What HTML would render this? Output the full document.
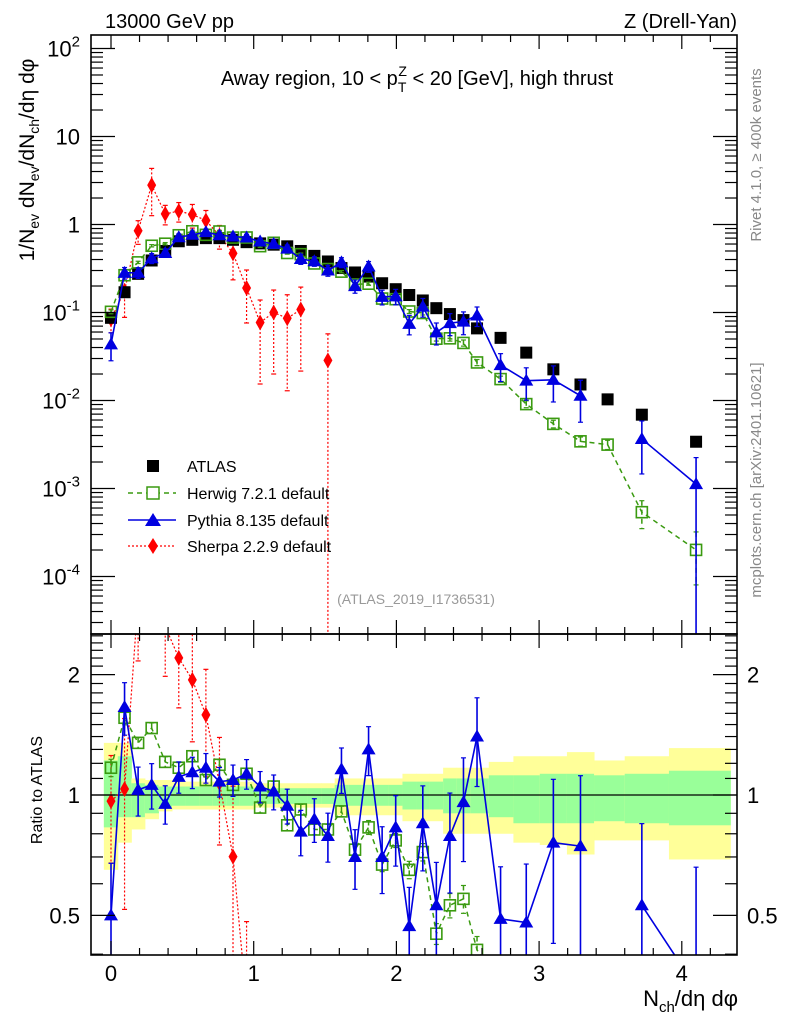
<!DOCTYPE html>
<html><head><meta charset="utf-8"><style>
html,body{margin:0;padding:0;background:#fff;width:786px;height:1024px;overflow:hidden;}
svg{display:block;font-family:"Liberation Sans",sans-serif;}
</style></head><body>
<svg id="chart" xmlns="http://www.w3.org/2000/svg" width="786" height="1024" viewBox="0 0 786 1024">
<g id="bands"></g>
<g id="marks"></g>
<g id="axes"></g>
<text x="105" y="28" font-size="20">13000 GeV pp</text>
<text x="737" y="28" font-size="20" text-anchor="end">Z (Drell-Yan)</text>
<text x="417" y="85" font-size="20" text-anchor="middle">Away region, 10 &lt; p<tspan font-size="14" dy="7">T</tspan><tspan font-size="14" dx="-8" dy="-16">Z</tspan><tspan dy="9"> &lt; 20 [GeV], high thrust</tspan></text>
<text transform="translate(34,160) rotate(-90)" font-size="21" text-anchor="middle">1/N<tspan font-size="14" dy="5">ev</tspan><tspan dy="-5"> dN</tspan><tspan font-size="14" dy="5">ev</tspan><tspan dy="-5">/dN</tspan><tspan font-size="14" dy="5">ch</tspan><tspan dy="-5">/dη dφ</tspan></text>
<text transform="translate(42,790) rotate(-90)" font-size="16" text-anchor="middle">Ratio to ATLAS</text>
<text x="738" y="1006" font-size="22" text-anchor="end">N<tspan font-size="15" dy="6">ch</tspan><tspan dy="-6">/dη dφ</tspan></text>
<text transform="translate(761,155) rotate(-90)" font-size="15" fill="#888" text-anchor="middle">Rivet 4.1.0, ≥ 400k events</text>
<text transform="translate(761,480) rotate(-90)" font-size="15" fill="#888" text-anchor="middle">mcplots.cern.ch [arXiv:2401.10621]</text>
<text x="416" y="604" font-size="14" fill="#999" text-anchor="middle">(ATLAS_2019_I1736531)</text>
<g id="legend">
<g><rect x="147" y="460" width="12" height="12" fill="#000"/><text x="187" y="472" font-size="16">ATLAS</text></g>
<g><line x1="128" y1="493" x2="176" y2="493" stroke="#3a9a10" stroke-width="1.5" stroke-dasharray="5,4"/><rect x="147" y="487" width="12" height="12" fill="#fff" stroke="#3a9a10" stroke-width="1.5"/><text x="187" y="499" font-size="16">Herwig 7.2.1 default</text></g>
<g><line x1="128" y1="520" x2="176" y2="520" stroke="#0000e0" stroke-width="1.5"/><path d="M145,526 L153,513 L161,526 Z" fill="#0000e0"/><text x="187" y="526" font-size="16">Pythia 8.135 default</text></g>
<g><line x1="128" y1="546" x2="176" y2="546" stroke="#f00" stroke-width="1.2" stroke-dasharray="2,2"/><path d="M153,538 L158,546 L153,554 L148,546 Z" fill="#f00"/><text x="187" y="552" font-size="16">Sherpa 2.2.9 default</text></g>
</g>
</svg>
<script>
const xVals = [0,0.095,0.19,0.285,0.38,0.475,0.57,0.665,0.76,0.855,0.95,1.045,1.14,1.235,1.33,1.425,1.52,1.615,1.71,1.805,1.9,1.995,2.09,2.185,2.28,2.375,2.47,2.565,2.73,2.91,3.10,3.29,3.48,3.72,4.10];
const atlasVals = [0.087,0.17,0.275,0.39,0.50,0.645,0.67,0.70,0.70,0.67,0.63,0.61,0.59,0.565,0.50,0.44,0.38,0.32,0.285,0.256,0.215,0.184,0.158,0.137,0.112,0.096,0.082,0.066,0.0515,0.035,0.0226,0.0152,0.0103,0.0069,0.0034];
const pythiaRatio = [0.50,1.66,1.03,1.06,0.95,1.11,1.14,1.17,1.08,1.09,1.13,1.05,1.02,0.94,0.81,0.87,0.79,1.16,0.70,1.30,0.70,0.83,0.47,0.85,0.53,0.79,0.96,1.40,0.49,0.48,0.76,0.745,null,0.53,0.33];
const pythiaErr = [0.35,0.15,0.14,0.13,0.11,0.09,0.09,0.085,0.085,0.09,0.085,0.09,0.10,0.10,0.13,0.125,0.14,0.13,0.17,0.14,0.19,0.2,0.25,0.24,0.28,0.28,0.29,0.25,0.35,0.4,0.44,0.5,null,0.6,1.0];
const herwigRatio = [1.17,1.56,1.35,1.47,1.21,1.17,1.25,1.09,1.19,1.06,1.13,0.93,1.05,0.84,0.92,0.82,0.82,0.91,0.73,0.83,0.67,0.77,0.65,0.72,0.45,0.53,0.55,0.41,0.34,0.26,0.24,0.226,0.306,0.078,0.059];
const herwigErr = [0.05,0.04,0.03,0.03,0.03,0.03,0.03,0.03,0.03,0.03,0.03,0.03,0.03,0.03,0.03,0.03,0.03,0.03,0.04,0.04,0.04,0.04,0.05,0.05,0.06,0.07,0.08,0.08,0.08,0.09,0.1,0.12,0.12,0.35,0.6];
const sherpaVals = [0.084,0.176,0.85,2.8,1.32,1.42,1.30,1.11,0.75,0.47,0.19,0.077,0.10,0.086,0.108,null,0.0286];
const sherpaErr = [0.3,0.5,0.3,0.55,0.25,0.25,0.3,0.3,0.3,0.5,0.6,0.8,0.8,0.85,0.8,null,1.0];
const bandYellowHi = [1.35,1.35,1.10,1.09,1.09,1.08,1.08,1.08,1.08,1.08,1.08,1.07,1.07,1.07,1.07,1.07,1.07,1.10,1.10,1.10,1.10,1.10,1.13,1.13,1.13,1.17,1.17,1.17,1.21,1.25,1.25,1.28,1.22,1.25,1.31];
const bandYellowLo = [0.65,0.76,0.82,0.87,0.91,0.92,0.92,0.92,0.92,0.92,0.92,0.93,0.93,0.93,0.93,0.93,0.93,0.89,0.89,0.89,0.89,0.89,0.86,0.86,0.86,0.80,0.80,0.80,0.80,0.76,0.75,0.71,0.77,0.77,0.69];
const bandGreenHi = [1.22,1.25,1.07,1.06,1.05,1.05,1.05,1.05,1.05,1.05,1.05,1.04,1.04,1.04,1.04,1.04,1.04,1.06,1.06,1.06,1.06,1.06,1.08,1.08,1.08,1.10,1.10,1.10,1.12,1.12,1.13,1.13,1.12,1.13,1.15];
const bandGreenLo = [0.83,0.88,0.88,0.90,0.93,0.94,0.94,0.94,0.94,0.94,0.94,0.95,0.95,0.95,0.95,0.95,0.95,0.94,0.94,0.94,0.94,0.94,0.92,0.92,0.92,0.90,0.90,0.90,0.88,0.85,0.85,0.85,0.86,0.85,0.84];
const mainTickLabels = ["10^2","10","1","10^-1","10^-2","10^-3","10^-4"];
const ratioTickLabels = ["0.5","1","2"];
const xTickLabels = ["0","1","2","3","4"];

const NS="http://www.w3.org/2000/svg";
const L=91,R=737,T=35,MB=634,RB=955;
const X0=111,XS=142.7;
function sx(v){return X0+v*XS;}
function syMain(v){return 224.5-Math.log10(v)*88;}
function syRatio(v){return 795-Math.log10(v)*400;}
function mk(tag,attrs,parent){const e=document.createElementNS(NS,tag);for(const k in attrs)e.setAttribute(k,attrs[k]);parent.appendChild(e);return e;}
const marks=document.getElementById('marks'),axes=document.getElementById('axes'),bands=document.getElementById('bands');

const defs=mk('defs',{},document.getElementById('chart'));
const c1=mk('clipPath',{id:'cm'},defs);mk('rect',{x:L,y:T,width:R-L,height:MB-T},c1);
const c2=mk('clipPath',{id:'cr'},defs);mk('rect',{x:L,y:MB,width:R-L,height:RB-MB},c2);

const edges=[];
for(let i=0;i<=xVals.length;i++){
  if(i===0)edges.push(xVals[0]-0.05);
  else if(i===xVals.length)edges.push(4.34);
  else edges.push((xVals[i-1]+xVals[i])/2);
}
const bg=mk('g',{'clip-path':'url(#cr)'},bands);
for(let i=0;i<xVals.length;i++){
  const x1=sx(edges[i]),x2=sx(edges[i+1]);
  const y=mk('rect',{x:x1,y:syRatio(bandYellowHi[i]),width:x2-x1+0.5,height:syRatio(bandYellowLo[i])-syRatio(bandYellowHi[i]),fill:'#ffff99'},bg);
  
  
  const g=mk('rect',{x:x1,y:syRatio(bandGreenHi[i]),width:x2-x1+0.5,height:syRatio(bandGreenLo[i])-syRatio(bandGreenHi[i]),fill:'#99ff99'},bg);
  
  
}
mk('line',{x1:L,x2:R,y1:syRatio(1),y2:syRatio(1),stroke:'#000','stroke-width':1.2},bands);

function drawSeries(vals,errs,sy,top,bot,clip,style,name){
  const g=mk('g',{'clip-path':clip},marks);
  
  
  let pts=[],segs=[];
  vals.forEach((v,i)=>{ if(v==null||!(v>0)){if(pts.length)segs.push(pts);pts=[];return;} pts.push([sx(xVals[i]),sy(v)]); });
  if(pts.length)segs.push(pts);
  segs.forEach(s=>{ if(s.length>1) mk('polyline',{points:s.map(p=>p.join(',')).join(' '),fill:'none',stroke:style.c,'stroke-width':style.w,'stroke-dasharray':style.d||'none'},g);});
  vals.forEach((v,i)=>{
    if(v==null||!(v>0))return;
    const x=sx(xVals[i]),y=sy(v),e=errs?errs[i]:0;
    if(e){
      const yh=sy(v*(1+e)),yl=e>=1?bot+5:sy(v*(1-e));
      mk('line',{x1:x,x2:x,y1:yh,y2:yl,stroke:style.c,'stroke-width':style.ew||1.5,'stroke-dasharray':style.d||'none'},g);
      mk('line',{x1:x-2.5,x2:x+2.5,y1:yh,y2:yh,stroke:style.c,'stroke-width':1.2},g);
      if(e<1)mk('line',{x1:x-2.5,x2:x+2.5,y1:yl,y2:yl,stroke:style.c,'stroke-width':1.2},g);
    }
    let m;
    if(style.m==='sq') m=mk('rect',{x:x-6,y:y-6,width:12,height:12,fill:'#000'},g);
    else if(style.m==='osq') m=mk('rect',{x:x-5.5,y:y-5.5,width:11,height:11,fill:'none',stroke:style.c,'stroke-width':1.6},g);
    else if(style.m==='tri') m=mk('path',{d:`M${x-7},${y+5} L${x},${y-7} L${x+7},${y+5} Z`,fill:style.c},g);
    else m=mk('path',{d:`M${x},${y-8} L${x+4.5},${y} L${x},${y+8} L${x-4.5},${y} Z`,fill:style.c},g);
    
    
  });
}
const hw={c:'#3a9a10',w:1.5,d:'5,4',m:'osq',ew:1.5};
const py={c:'#0000e0',w:1.6,m:'tri',ew:1.6};
const sh={c:'#f00',w:1.2,d:'2,2',m:'dia',ew:1.2};
const herwigVals=herwigRatio.map((r,i)=>r==null?null:r*atlasVals[i]);
const pythiaVals=pythiaRatio.map((r,i)=>r==null?null:r*atlasVals[i]);
const sherpaRatio=sherpaVals.map((v,i)=>v==null?null:v/atlasVals[i]);
drawSeries(sherpaVals,sherpaErr,syMain,T,MB,'url(#cm)',sh,'sherpa-series');
drawSeries(atlasVals,null,syMain,T,MB,'url(#cm)',{c:'#000',w:0,m:'sq'},'atlas-series');
drawSeries(herwigVals,herwigErr,syMain,T,MB,'url(#cm)',hw,'herwig-series');
drawSeries(pythiaVals,pythiaErr,syMain,T,MB,'url(#cm)',py,'pythia-series');
drawSeries(sherpaRatio,sherpaErr,syRatio,MB,RB,'url(#cr)',sh,'sherpa-ratio');
drawSeries(herwigRatio,herwigErr,syRatio,MB,RB,'url(#cr)',hw,'herwig-ratio');
drawSeries(pythiaRatio,pythiaErr,syRatio,MB,RB,'url(#cr)',py,'pythia-ratio');

mk('rect',{x:L,y:T,width:R-L,height:MB-T,fill:'none',stroke:'#000','stroke-width':1.6},axes);
mk('rect',{x:L,y:MB,width:R-L,height:RB-MB,fill:'none',stroke:'#000','stroke-width':1.6},axes);
function ln(x1,y1,x2,y2){mk('line',{x1,y1,x2,y2,stroke:'#000','stroke-width':1.2},axes);}
for(let k=-0.2;k<=4.4;k+=0.2){
  const v=Math.round(k*10)/10; const x=sx(v); if(x<L||x>R)continue;
  const maj=Math.abs(v-Math.round(v))<1e-6; const len=maj?14:7;
  ln(x,T,x,T+len);ln(x,MB,x,MB-len);ln(x,MB,x,MB+len);ln(x,RB,x,RB-len);
}
xTickLabels.forEach((t,i)=>{const e=mk('text',{x:sx(i),y:RB+26,'font-size':22,'text-anchor':'middle'},axes);e.textContent=t;});
for(let d=-5;d<=2;d++){
  for(let m=1;m<=9;m++){
    const v=m*Math.pow(10,d),y=syMain(v); if(y<T||y>MB)continue;
    const len=m===1?24:12; ln(L,y,L+len,y);ln(R,y,R-len,y);
  }
}
mainTickLabels.forEach((t,i)=>{
  const d=2-i,y=syMain(Math.pow(10,d));
  const e=mk('text',{x:80,y:y+8,'font-size':22,'text-anchor':'end'},axes);
  
  
  if(t.indexOf('^')>=0){const p=t.split('^');e.textContent=p[0];const s=mk('tspan',{'font-size':15,dy:-10},e);s.textContent=p[1];}
  else e.textContent=t;
});
for(let v=0.4;v<=2.6;v=Math.round((v+0.1)*10)/10){
  const y=syRatio(v); if(y<MB||y>RB)continue;
  const maj=(v===0.5||v===1||v===2); const len=maj?24:12; ln(L,y,L+len,y);ln(R,y,R-len,y);
}
ratioTickLabels.forEach(t=>{
  const y=syRatio(parseFloat(t));
  const a=mk('text',{x:80,y:y+8,'font-size':22,'text-anchor':'end'},axes);a.textContent=t;
  
  
  const b=mk('text',{x:747,y:y+8,'font-size':22,'text-anchor':'start'},axes);b.textContent=t;
  
  
});
</script>
</body></html>
